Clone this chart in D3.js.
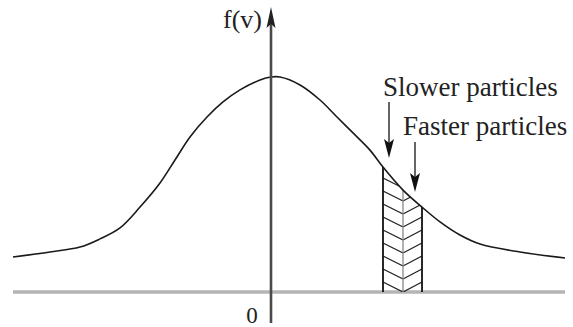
<!DOCTYPE html>
<html><head><meta charset="utf-8">
<script src="https://cdn.jsdelivr.net/npm/d3@7"></script>
<style>html,body{margin:0;padding:0;background:#fff;}svg{display:block;}</style>
</head><body>
<svg id="c" width="573" height="327"></svg>
<script>
// Curve samples: speed v (in width units, 0 at axis) and f(v) relative to peak
const vValues = [-2.58,-2.21,-1.91,-1.71,-1.51,-1.31,-1.11,-0.96,-0.81,-0.64,-0.48,-0.31,-0.11,0,0.09,0.29,0.49,0.66,0.82,0.99,1.12,1.32,1.51,1.69,1.89,2.09,2.49,2.94];
const fValues = [0.163,0.186,0.209,0.247,0.298,0.395,0.507,0.614,0.721,0.814,0.884,0.940,0.986,1.000,1.000,0.963,0.893,0.814,0.740,0.660,0.581,0.474,0.395,0.326,0.265,0.223,0.186,0.158];
// shaded band: slower part [start, mid], faster part [mid, end]
const bandV = [1.12, 1.32, 1.51];
const labels = {yAxis: "f(v)", origin: "0", slower: "Slower particles", faster: "Faster particles"};

const data = vValues.map((v,i)=>({v, f:fValues[i]}));
const svg = d3.select("#c");
const x = d3.scaleLinear().domain([-2.58, 2.94]).range([13, 565]);
const y = d3.scaleLinear().domain([0, 1]).range([292, 77]);
const serif = "'Liberation Serif','DejaVu Serif',serif";
const curve = d3.curveCatmullRom.alpha(0.5);

// clip: area under the curve
const area = d3.area().x(d=>x(d.v)).y0(y(0)).y1(d=>y(d.f)).curve(curve);
svg.append("clipPath").attr("id","under").append("path").attr("d", area(data));

// baseline
svg.append("line").attr("x1", x(-2.58)).attr("x2", x(2.94)).attr("y1", y(0)).attr("y2", y(0))
  .attr("stroke","#b4b4b4").attr("stroke-width",3.5);

// hatching
const hg = svg.append("g").attr("clip-path","url(#under)");
const xl = x(bandV[0]), xm = x(bandV[1]), xr = x(bandV[2]);
for (let yk = y(0); yk > y(0.75); yk -= 13) {
  hg.append("line").attr("x1", xl).attr("y1", yk-10).attr("x2", xm).attr("y2", yk)
    .attr("stroke","#222").attr("stroke-width",1.3);
  hg.append("line").attr("x1", xr).attr("y1", yk-10).attr("x2", xm).attr("y2", yk)
    .attr("stroke","#222").attr("stroke-width",1.3);
}
// band outline lines
bandV.forEach((bv,i)=>{
  hg.append("line").attr("x1", x(bv)).attr("x2", x(bv)).attr("y1", y(0)).attr("y2", y(1))
    .attr("stroke", i===1 ? "#888" : "#111").attr("stroke-width", i===1 ? 1.3 : 1.8);
});
// curve
const line = d3.line().x(d=>x(d.v)).y(d=>y(d.f)).curve(curve);
svg.append("path").attr("d", line(data)).attr("fill","none").attr("stroke","#1a1a1a").attr("stroke-width",1.6);

// vertical axis
svg.append("line").attr("x1", x(0)).attr("x2", x(0)).attr("y1", 323).attr("y2", 20)
  .attr("stroke","#4a4a4a").attr("stroke-width",2.6);
svg.append("path").attr("d", d3.line()([[x(0),7],[x(0)-4.5,28],[x(0),24],[x(0)+4.5,28]])+"Z").attr("fill","#222");

// arrows
function arrow(ax, y1, tip){
  svg.append("line").attr("x1",ax).attr("x2",ax).attr("y1",y1).attr("y2",tip-8)
    .attr("stroke","#333").attr("stroke-width",1.5);
  svg.append("path").attr("d", d3.line()([[ax,tip],[ax-5,tip-19],[ax,tip-15],[ax+5,tip-19]])+"Z").attr("fill","#111");
}
arrow(x(bandV[0])+6, 102, 158);
arrow(x(bandV[1])+12, 142, 192);

// texts
svg.append("text").attr("x", x(0)-9).attr("y", 28).attr("text-anchor","end")
  .attr("font-family",serif).attr("font-size",26).attr("fill","#222").text(labels.yAxis);
svg.append("text").attr("x", x(0)-19).attr("y", 323).attr("text-anchor","middle")
  .attr("font-family",serif).attr("font-size",23).attr("fill","#222").text(labels.origin);
svg.append("text").attr("x", 383).attr("y", 96)
  .attr("font-family",serif).attr("font-size",27).attr("fill","#222").text(labels.slower);
svg.append("text").attr("x", 403).attr("y", 135)
  .attr("font-family",serif).attr("font-size",27).attr("fill","#222").text(labels.faster);
</script>
</body></html>
